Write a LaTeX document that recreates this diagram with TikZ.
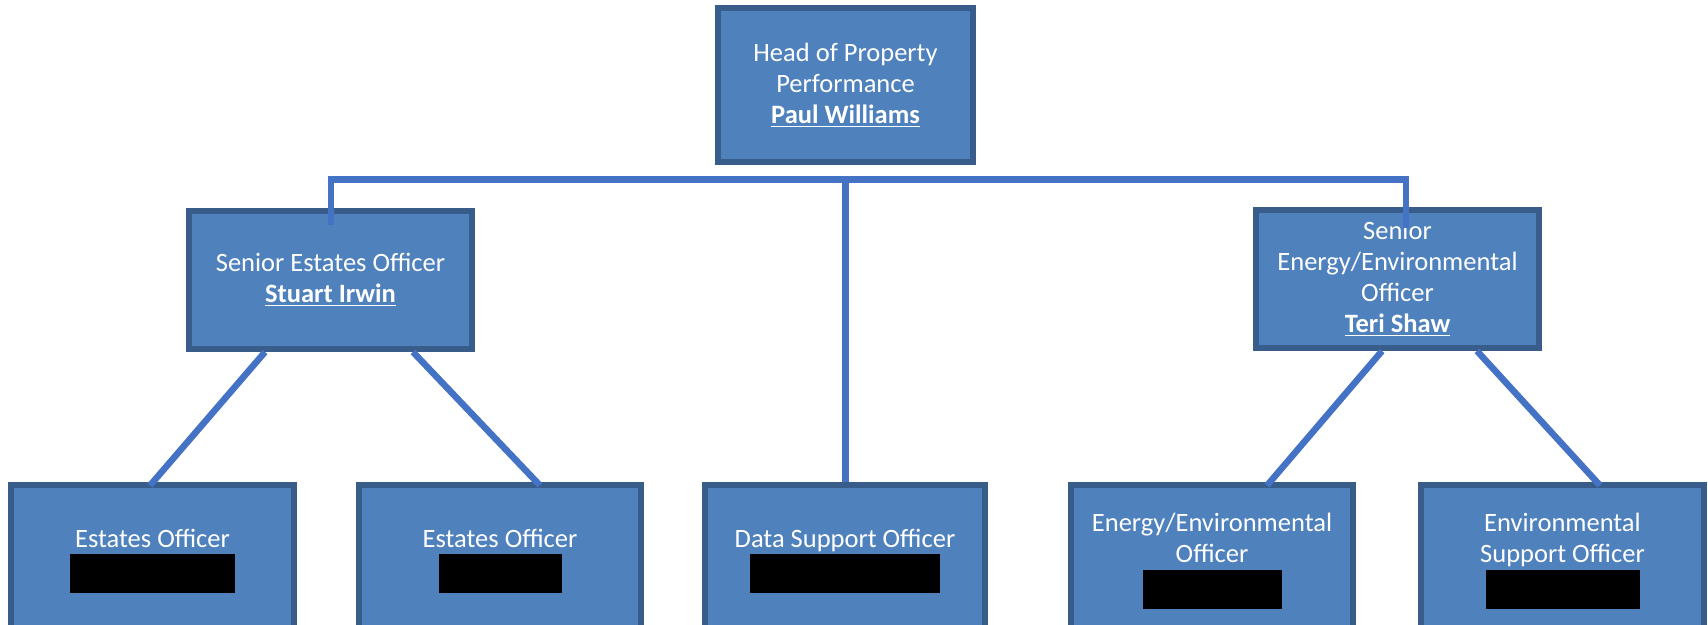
\documentclass[tikz,border=0pt]{standalone}
\usepackage{fontspec}
\setmainfont{Carlito}
\usetikzlibrary{calc}

\definecolor{postfill}{RGB}{79,129,189}
\definecolor{postedge}{RGB}{56,93,138}
\definecolor{linkblue}{RGB}{68,114,196}

\newcommand{\blackbar}[1]{\textcolor{black}{\rule[-7.5pt]{#1}{19.5pt}}}

\begin{document}
\begin{tikzpicture}[x=0.5pt, y=-0.5pt,
    post/.style={rectangle, draw=postedge, fill=postfill, line width=3pt, text=white,
      align=center, inner sep=0pt, minimum width=141.5pt,
      font=\fontsize{13.25}{15.5}\selectfont},
    link/.style={draw=linkblue, line width=3.25pt}]
    \useasboundingbox (0,0) rectangle (1708,625);
    \clip (0,0) rectangle (1708,625);

    \node[post, minimum width=127.5pt, minimum height=77pt] (head) at (845.5,85) {Head of Property\\Performance\\\underline{\textbf{Paul Williams}}};
    \node[post, minimum height=69pt] (seo) at (330.5,280) {Senior Estates Officer\\\underline{\textbf{Stuart Irwin}}};
    \node[post, minimum height=69pt] (seeo) at (1397.5,279) {Senior\\Energy/Environmental\\Officer\\\underline{\textbf{Teri Shaw}}};
    \node[post, minimum height=75.5pt] (eo1) at (152.5,561) {Estates Officer\\\blackbar{82.5pt}};
    \node[post, minimum height=75.5pt, minimum width=141pt] (eo2) at (500,561) {Estates Officer\\\blackbar{61.5pt}};
    \node[post, minimum height=75.5pt, minimum width=140pt] (dso) at (845,561) {Data Support Officer\\\blackbar{95pt}};
    \node[post, minimum height=75.5pt, minimum width=141pt] (eeo) at (1212,561) {Energy/Environmental\\Officer\\\blackbar{69.5pt}};
    \node[post, minimum height=75.5pt] (eso) at (1562.5,561) {Environmental\\Support Officer\\\blackbar{77pt}};

    \coordinate (bar) at (845.5,179.5);
    \coordinate (barl) at (331,179.5);
    \coordinate (barr) at (1406,179.5);

    \draw[link] ($(seo.north)+(0.5,17)$) -- (barl) -- (barr) -- ($(seeo.north)+(8.5,21)$);
    \draw[link] (bar) -- (bar |- dso.north);
    \draw[link] ($(seo.south)+(-65.5,0)$) -- ($(eo1.north)+(-2.5,3)$);
    \draw[link] ($(seo.south)+(82.5,0)$) -- ($(eo2.north)+(40,3)$);
    \draw[link] ($(seeo.south)+(-15.5,0)$) -- ($(eeo.north)+(55,3)$);
    \draw[link] ($(seeo.south)+(79.5,0)$) -- ($(eso.north)+(37.5,3)$);
  \end{tikzpicture}
\end{document}
